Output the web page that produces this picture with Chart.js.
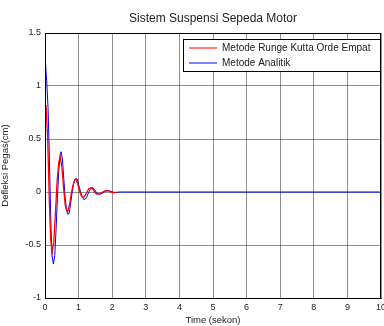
<!DOCTYPE html>
<html lang="en">
<head>
    <meta charset="UTF-8">
    <title>Sistem Suspensi Sepeda Motor</title>
    <script src="https://cdn.jsdelivr.net/npm/chart.js"></script>
    <style>
        body { margin: 0; background: #fff; }
        #wrap { width: 384px; height: 326px; }
    </style>
</head>
<body>
    <div id="wrap"><canvas id="chart" width="384" height="326"></canvas></div>

    <script>
        const titleText = 'Sistem Suspensi Sepeda Motor';
        const xTitle = 'Time (sekon)';
        const yTitle = 'Defleksi Pegas(cm)';
        const seriesNames = ['Metode Runge Kutta Orde Empat', 'Metode Analitik'];

        // Runge Kutta (red)
        const rkT = [0, 0.03, 0.08, 0.13, 0.17, 0.21, 0.26, 0.31, 0.36, 0.41, 0.45, 0.50, 0.55, 0.60, 0.64, 0.68, 0.73, 0.78, 0.83, 0.88, 0.92, 0.97, 1.02, 1.07, 1.12, 1.15, 1.20, 1.25, 1.30, 1.36, 1.42, 1.48, 1.54, 1.60, 1.66, 1.72, 1.78, 1.84, 1.90, 1.96, 2.02, 2.08, 2.13];
        const rkY = [0.6, 0.82, 0.5, -0.1, -0.45, -0.57, -0.48, -0.2, 0.1, 0.28, 0.33, 0.25, 0.05, -0.12, -0.17, -0.18, -0.12, -0.02, 0.06, 0.11, 0.12, 0.08, 0.02, -0.03, -0.05, -0.05, -0.03, 0.0, 0.03, 0.04, 0.03, 0.0, -0.02, -0.02, -0.01, 0.0, 0.01, 0.01, 0.01, 0.0, -0.005, -0.005, 0];

        // analitik (blue)
        const anT = [0, 0.02, 0.05, 0.09, 0.12, 0.15, 0.18, 0.21, 0.25, 0.29, 0.33, 0.37, 0.41, 0.45, 0.48, 0.52, 0.56, 0.60, 0.64, 0.68, 0.72, 0.76, 0.80, 0.84, 0.88, 0.92, 0.96, 1.00, 1.05, 1.10, 1.15, 1.19, 1.24, 1.29, 1.34, 1.38, 1.43, 1.48, 1.54, 1.60, 1.66, 1.72, 1.78, 1.84, 1.90, 1.96, 2.02, 2.10, 2.20, 10];
        const anY = [1.2, 1.18, 1.05, 0.8, 0.45, 0.05, -0.35, -0.6, -0.68, -0.6, -0.35, -0.05, 0.2, 0.35, 0.38, 0.3, 0.12, -0.05, -0.17, -0.21, -0.2, -0.12, -0.02, 0.06, 0.11, 0.13, 0.12, 0.07, 0.01, -0.04, -0.07, -0.07, -0.05, -0.01, 0.02, 0.04, 0.04, 0.02, -0.01, -0.02, -0.02, -0.01, 0.005, 0.012, 0.012, 0.005, 0, -0.005, 0, 0];

        const FONT = 'Liberation Sans, Arial, sans-serif';

        const toPoints = (xs, ys) => xs.map((x, i) => ({ x: x, y: ys[i] }));

        // box around plot + title + legend inside plot (matlab style)
        const extras = {
            id: 'extras',
            afterDraw(chart) {
                const ctx = chart.ctx;
                const a = chart.chartArea;
                ctx.save();
                ctx.strokeStyle = '#000';
                ctx.lineWidth = 1;
                ctx.strokeRect(a.left + 0.5, a.top + 0.5, a.right - a.left - 1, a.bottom - a.top);

                ctx.fillStyle = '#222';
                ctx.font = '12px ' + FONT;
                ctx.textAlign = 'center';
                ctx.textBaseline = 'middle';
                ctx.fillText(titleText, (a.left + a.right) / 2, 19);

                // legend
                const lx = 183, ly = 39, lw = 197, lh = 32;
                ctx.fillStyle = '#fff';
                ctx.fillRect(lx, ly, lw, lh);
                ctx.strokeRect(lx + 0.5, ly + 0.5, lw, lh);
                ctx.font = '10px ' + FONT;
                ctx.textAlign = 'left';
                chart.data.datasets.forEach((ds, i) => {
                    const y = ly + 9 + i * 15;
                    ctx.strokeStyle = ds.borderColor;
                    ctx.beginPath();
                    ctx.moveTo(lx + 6, y);
                    ctx.lineTo(lx + 34, y);
                    ctx.stroke();
                    ctx.fillStyle = '#222';
                    ctx.fillText(ds.label, lx + 39, y);
                });
                ctx.restore();
            }
        };

        new Chart(document.getElementById('chart'), {
            type: 'line',
            data: {
                datasets: [{
                    label: seriesNames[0],
                    data: toPoints(rkT, rkY),
                    borderColor: '#ff0000',
                    borderWidth: 1.3,
                    pointRadius: 0,
                    tension: 0
                }, {
                    label: seriesNames[1],
                    data: toPoints(anT, anY),
                    borderColor: '#0000ff',
                    borderWidth: 1,
                    pointRadius: 0,
                    tension: 0
                }]
            },
            options: {
                responsive: false,
                animation: false,
                layout: { padding: { top: 33, left: 0, right: 3, bottom: 0 } },
                plugins: {
                    legend: { display: false },
                    title: { display: false },
                    tooltip: { enabled: false }
                },
                scales: {
                    x: {
                        type: 'linear',
                        min: 0,
                        max: 10,
                        ticks: { stepSize: 1, color: '#222', font: { family: FONT, size: 9 }, padding: 4, maxRotation: 0 },
                        grid: { color: 'rgba(0,0,0,0.55)', lineWidth: 0.8, drawTicks: false },
                        border: { color: '#000', width: 1 },
                        title: { display: true, text: xTitle, color: '#222', font: { family: FONT, size: 9.5 }, padding: 0 },
                        afterFit(s) { s.height = 28; s.paddingLeft = 0; s.paddingRight = 0; }
                    },
                    y: {
                        min: -1,
                        max: 1.5,
                        ticks: {
                            stepSize: 0.5, color: '#222', font: { family: FONT, size: 9 }, padding: 4,
                            callback: v => String(v)
                        },
                        grid: { color: 'rgba(0,0,0,0.55)', lineWidth: 0.8, drawTicks: false },
                        border: { color: '#000', width: 1 },
                        title: { display: true, text: yTitle, color: '#222', font: { family: FONT, size: 9.5 }, padding: 0 },
                        afterFit(s) { s.width = 45; s.paddingTop = 0; s.paddingBottom = 0; }
                    }
                }
            },
            plugins: [extras]
        });
    </script>
</body>
</html>
